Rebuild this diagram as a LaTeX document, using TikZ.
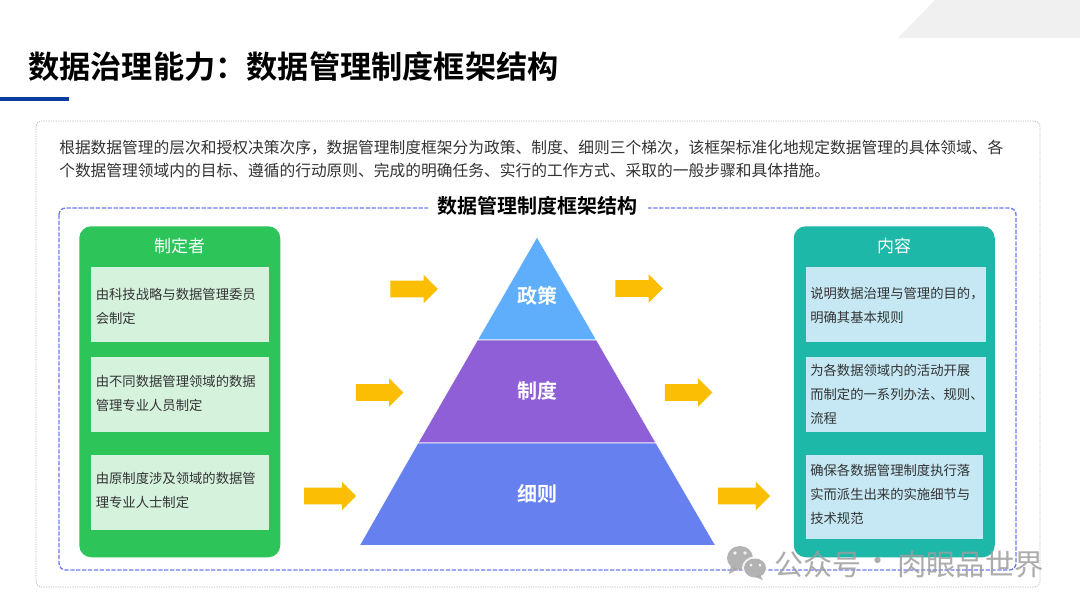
\documentclass[tikz,border=0pt]{standalone}
\usepackage{fontspec}
\setmainfont{Noto Sans CJK SC}[BoldFont={Noto Sans CJK SC Bold}]
\usetikzlibrary{shapes.arrows,calc}
\definecolor{cgreen}{HTML}{2DC55A}
\definecolor{cgreenl}{HTML}{D5F2DD}
\definecolor{cteal}{HTML}{1EB8A8}
\definecolor{ctealL}{HTML}{C5E8F4}
\definecolor{cyellow}{HTML}{FBBE03}
\definecolor{cblue}{HTML}{5FAEFB}
\definecolor{cpurple}{HTML}{8E5FD6}
\definecolor{cindigo}{HTML}{6680F0}
\definecolor{cbar}{HTML}{0B3D9E}
\definecolor{cdash}{HTML}{6C7CF0}
\definecolor{ctext}{HTML}{333333}
\newcommand{\flowrule}{\rule{0pt}{12pt}}
\newcommand{\fwcomma}{\char"FF0C\relax}
\newcommand{\fwcolon}{\char"FF1A\relax}
\tikzset{
  x=0.75pt,y=-0.75pt,
  panel/.style={anchor=north west,rounded corners=9pt,inner sep=0pt,minimum width=201*.75pt,minimum height=331*.75pt},
  panelhead/.style={text=white,inner sep=0pt,font=\fontsize{12.75}{15}\selectfont},
  itembox/.style={anchor=north west,inner sep=0pt,minimum height=75*.75pt},
  itemtext/.style={anchor=west,inner sep=0pt,align=left,text=ctext,font=\fontsize{10}{18}\selectfont},
  flow/.style={single arrow,fill=cyellow,draw=none,inner sep=0pt,minimum width=28*.75pt,
     single arrow head extend=6*.75pt,single arrow head indent=0pt,shape border rotate=0},
  level/.style={text=white,inner sep=0pt,font=\fontsize{15}{18}\selectfont\bfseries},
  layer/.style={draw=white,line width=.4pt},
}
\begin{document}
\begin{tikzpicture}
\useasboundingbox (0,0) rectangle (1080,608);
\fill[white] (0,0) rectangle (1080,608);
\fill[black!6] (898,38) -- (935,0) -- (1080,0) -- (1080,38) -- cycle;
\node[anchor=west,inner sep=0pt,font=\fontsize{23.4}{28}\selectfont\bfseries,text=black] (title) at (28,67) {数据治理能力\fwcolon 数据管理制度框架结构};
\fill[cbar] (0,97) rectangle (69,101);
% outer frame
\draw[black!28,dash pattern=on .9pt off .9pt,line width=.6pt,rounded corners=4pt] (36,121) rectangle (1040,587);
\node[anchor=north west,inner sep=0pt,align=left,text=ctext,font=\fontsize{11.8}{17.25}\selectfont] (intro) at (59,140) {根据数据管理的层次和授权决策次序\fwcomma 数据管理制度框架分为政策、制度、细则三个梯次\fwcomma 该框架标准化地规定数据管理的具体领域、各\\个数据管理领域内的目标、遵循的行动原则、完成的明确任务、实行的工作方式、采取的一般步骤和具体措施。};
% dashed frame + heading
\draw[cdash,line width=1pt,dash pattern=on 3.2pt off 1.2pt,rounded corners=5pt] (59,208) rectangle (1016,570);
\node[fill=white,inner xsep=7.5pt,inner ysep=2pt,font=\fontsize{15}{18}\selectfont\bfseries,text=black] (heading) at (537.5,206) {数据管理制度框架结构};
% left panel
\node[panel,fill=cgreen] (left) at (79,226) {};
\node[panelhead] (lefthead) at (179.5,246) {制定者};
\node[itembox,fill=cgreenl,minimum width=178*.75pt] (l1) at (91,267) {};
\node[itemtext] (lt1) at (95.5,306) {由科技战略与数据管理委员\\会制定};
\node[itembox,fill=cgreenl,minimum width=178*.75pt] (l2) at (91,357) {};
\node[itemtext] (lt2) at (95.5,393) {由不同数据管理领域的数据\\管理专业人员制定};
\node[itembox,fill=cgreenl,minimum width=178*.75pt] (l3) at (91,455) {};
\node[itemtext] (lt3) at (95.5,490) {由原制度涉及领域的数据管\\理专业人士制定};
% right panel
\node[panel,fill=cteal] (right) at (793.5,226) {};
\node[panelhead] (righthead) at (894,246) {内容};
\node[itembox,fill=ctealL,minimum width=180.5*.75pt] (r1) at (805.5,267) {};
\node[itemtext] (rt1) at (810,305.5) {说明数据治理与管理的目的\fwcomma\\明确其基本规则};
\node[itembox,fill=ctealL,minimum width=180.5*.75pt] (r2) at (805.5,357) {};
\node[itemtext] (rt2) at (810,394.5) {为各数据领域内的活动开展\\而制定的一系列办法、规则、\\流程};
\node[itembox,fill=ctealL,minimum width=177.5*.75pt,minimum height=84*.75pt] (r3) at (805.5,455) {};
\node[itemtext] (rt3) at (810,494.5) {确保各数据管理制度执行落\\实而派生出来的实施细节与\\技术规范};
% pyramid
\fill[cblue,layer] (537,237) -- (596.5,340) -- (477.5,340) -- cycle;
\fill[cpurple,layer] (477.5,340) -- (596.5,340) -- (656,443) -- (418,443) -- cycle;
\fill[cindigo,layer] (418,443) -- (656,443) -- (715.5,545.5) -- (359.5,545.5) -- cycle;
\node[level] (p1) at (537.5,296) {政策};
\node[level] (p2) at (537.5,391) {制度};
\node[level] (p3) at (537.5,494) {细则};
% arrows
\node[flow,minimum height=47.5*.75pt] (a1) at (410,289) {\flowrule};
\node[flow,minimum height=47.5*.75pt] (b1) at (635,288.5) {\flowrule};
\node[flow,minimum height=47.5*.75pt] (a2) at (375.5,392.5) {\flowrule};
\node[flow,minimum height=47.5*.75pt] (b2) at (684.5,392.5) {\flowrule};
\node[flow,minimum height=52*.75pt] (a3) at (326,496) {\flowrule};
\node[flow,minimum height=52*.75pt] (b3) at (740,496) {\flowrule};
% watermark
\begin{scope}[opacity=.85]
\fill[black!35] (740,558) ellipse [x radius=13,y radius=12];
\fill[black!35] (731,566) -- (729,574) -- (738,569) -- cycle;
\fill[white] (755,568) ellipse [x radius=13,y radius=11.5];
\fill[black!35] (755,568) ellipse [x radius=11,y radius=9.5];
\fill[black!35] (760,575) -- (763,580) -- (755,577) -- cycle;
\fill[white] (735,553) circle (1.8) (745,553) circle (1.8) (751,565) circle (1.5) (760,565) circle (1.5);
\node[anchor=west,inner sep=0pt,text=black!38,font=\fontsize{21.75}{26}\selectfont] (wm1) at (774,564) {公众号};
\node[inner sep=0pt,text=black!38,font=\fontsize{21.75}{26}\selectfont] (wmdot) at (878,564) {·};
\node[anchor=west,inner sep=0pt,text=black!38,font=\fontsize{22}{26}\selectfont] (wm2) at (897,564) {肉眼品世界};
\end{scope}
\end{tikzpicture}
\end{document}
